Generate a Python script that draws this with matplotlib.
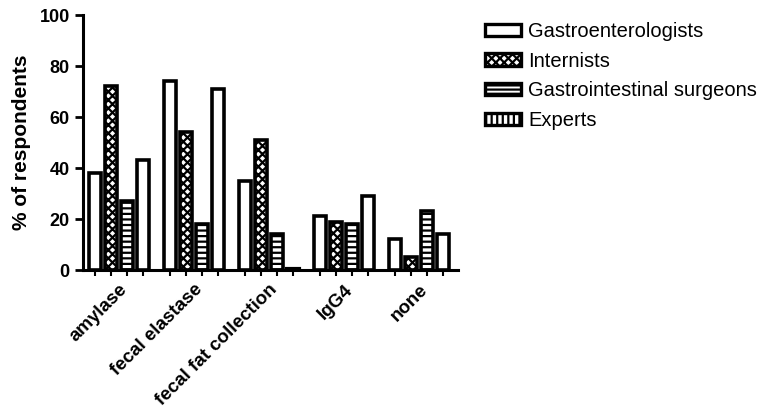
import matplotlib
matplotlib.use('Agg')
import matplotlib.pyplot as plt
from matplotlib.patches import Patch
import numpy as np

plt.rcParams['font.family'] = ['Liberation Sans', 'DejaVu Sans']
plt.rcParams['hatch.linewidth'] = 1.6

tests = ['amylase', 'fecal elastase', 'fecal fat collection', 'IgG4', 'none']
groups = ['Gastroenterologists', 'Internists', 'Gastrointestinal surgeons', 'Experts']
gastro = [38, 74, 35, 21, 12]
intern = [72, 54, 51, 19, 5]
surgeons = [27, 18, 14, 18, 23]
experts = [43, 71, 0, 29, 14]

series = [gastro, intern, surgeons, experts]
bar_hatch = ['', 'xxxx', '---', '']
leg_hatch = ['', 'xxxx', '----', '|||']

fig = plt.figure(figsize=(7.65, 4.11), dpi=100)
ax = fig.add_axes([0.1085, 0.343, 0.49, 0.6205])

x = np.arange(len(tests))
step, width = 0.213, 0.16
for k, vals in enumerate(series):
    pos = x + (k - 1.5) * step
    ax.bar(pos, vals, width, color='white', edgecolor='black',
           linewidth=2.6, hatch=bar_hatch[k])
# zero-height bar shows as a flat dash
for i, v in enumerate(experts):
    if v == 0:
        xp = x[i] + 1.5 * step
        ax.plot([xp - width / 2, xp + width / 2], [0.3, 0.3], color='black', lw=3)

minor_pos = np.concatenate([x + (k - 1.5) * step for k in range(4)])
ax.set_xticks(minor_pos, minor=True)
ax.set_xlim(-0.48, 4.52)
ax.set_ylim(0, 100)
ax.set_yticks([0, 20, 40, 60, 80, 100])
ax.set_xticks(x)
ax.set_xticklabels(tests, rotation=45, ha='right', rotation_mode='anchor',
                   fontsize=13.5, fontweight='bold')
for lab in ax.get_yticklabels():
    lab.set_fontsize(13)
    lab.set_fontweight('bold')
ax.tick_params(axis='x', which='major', length=0, pad=8)
ax.tick_params(axis='x', which='minor', length=4, width=1.5)
ax.tick_params(axis='y', length=6, width=2)
ax.set_ylabel('% of respondents', fontsize=15, fontweight='bold', labelpad=6)
for side in ['top', 'right']:
    ax.spines[side].set_visible(False)
for side in ['left', 'bottom']:
    ax.spines[side].set_linewidth(2.2)

handles = [Patch(facecolor='white', edgecolor='black', linewidth=2.4, hatch=h)
           for h in leg_hatch]
fig.legend(handles, groups, loc='upper left', bbox_to_anchor=(485 / 765, 1 - 22 / 411),
           frameon=False, fontsize=14.5, handlelength=1.8, handleheight=0.55,
           handletextpad=0.35, labelspacing=0.53, borderpad=0, borderaxespad=0)

fig.savefig('out.png', dpi=100)
